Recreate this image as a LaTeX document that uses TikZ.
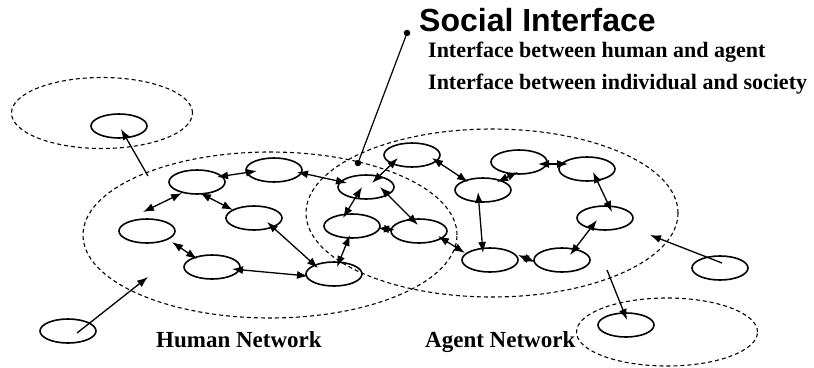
\documentclass[tikz,border=0pt]{standalone}
\usepackage{fontspec}
\setmainfont{Liberation Serif}
\newfontfamily\sisans{Liberation Sans}
\usetikzlibrary{shapes.geometric,arrows.meta,calc}
\begin{document}
\begin{tikzpicture}[x=1pt,y=-1pt,
  agent/.style={ellipse,draw,line width=1.6pt,minimum width=56pt,minimum height=24pt,inner sep=0pt},
  region/.style={ellipse,draw,line width=1.1pt,dash pattern=on 4pt off 3pt,inner sep=0pt},
  link/.style={line width=1.3pt,{Latex[length=11pt,width=8pt]}-{Latex[length=11pt,width=8pt]}},
  oneway/.style={line width=1.3pt,-{Latex[length=11pt,width=8pt]}},
  dotmark/.style={circle,fill,inner sep=0pt,minimum size=6.5pt},
  toptext/.style={font=\bfseries\fontsize{22}{24}\selectfont,anchor=base west,inner sep=0pt},
  nettext/.style={font=\bfseries\fontsize{23}{24}\selectfont,anchor=base west,inner sep=0pt}]
\useasboundingbox (0,0) rectangle (814,367);

% dashed regions
\node[region,minimum width=181pt,minimum height=71pt] (rtl) at (102,113) {};
\node[region,minimum width=374pt,minimum height=166pt] (rhuman) at (270,235) {};
\node[region,minimum width=372pt,minimum height=168pt] (ragent) at (492,213) {};
\node[region,minimum width=181pt,minimum height=68pt] (rbr) at (667,332) {};

% outside nodes
\node[agent] (tl) at (119,126) {};
\node[agent] (bl) at (68,331) {};
\node[agent] (rt) at (720,268) {};
\node[agent] (br) at (626,325) {};

% human network
\node[agent] (h1) at (197,182) {};
\node[agent] (h2) at (274,170) {};
\node[agent] (h3) at (254,218) {};
\node[agent] (h4) at (147,231) {};
\node[agent] (h5) at (212,267) {};
\node[agent] (h6) at (334,274) {};

% agent network
\node[agent] (s)  at (366,187) {};
\node[agent] (a1) at (412,155) {};
\node[agent] (a2) at (352,226) {};
\node[agent] (a3) at (419,231) {};
\node[agent] (a5) at (483,190) {};
\node[agent] (a6) at (519,162) {};
\node[agent] (a7) at (587,169) {};
\node[agent] (a8) at (605,218) {};
\node[agent] (a9) at (562,260) {};
\node[agent] (a10) at (490,260) {};

% free ends
\coordinate (f1) at (143,212);
\coordinate (f2) at (148,176);
\coordinate (f3) at (148,277);
\coordinate (f4) at (650,235);
\coordinate (f5) at (607,270);

% links
\draw[link] ($(h1)+(20,-5)$) -- ($(h2)+(-17,1)$);
\draw[link] ($(h1)+(3,11)$) -- ($(h3)+(-21,-8)$);
\draw[link] ($(h1)+(-15,11)$) -- (f1);
\draw[link] ($(h4)+(25,11)$) -- ($(h5)+(-15,-8)$);
\draw[link] ($(h5)+(20,2)$) -- ($(h6)+(-26,2)$);
\draw[link] ($(h3)+(13,4)$) -- ($(h6)+(-16,-6)$);
\draw[link] ($(h2)+(23,2)$) -- ($(s)+(-19,-4)$);
\draw[link] ($(s)+(6,-4)$) -- ($(a1)+(-14,3)$);
\draw[link] ($(s)+(-4,0)$) -- ($(a2)+(-9,-8)$);
\draw[link] ($(s)+(14,0)$) -- ($(a3)+(-1,-6)$);
\draw[link] ($(a2)+(-2,9)$) -- ($(h6)+(3,-7)$);
\draw[link] ($(a2)+(26,2)$) -- ($(a3)+(-24,-1)$);
\draw[link] ($(a3)+(19,5)$) -- ($(a10)+(-25,-7)$);
\draw[link] ($(a1)+(20,3)$) -- ($(a5)+(-15,-8)$);
\draw[link] ($(a5)+(14,-8)$) -- ($(a6)+(-1,10)$);
\draw[link] ($(a6)+(19,2)$) -- ($(a7)+(-19,-5)$);
\draw[link] ($(a7)+(6,3)$) -- ($(a8)+(7,-6)$);
\draw[link] ($(a8)+(-8,2)$) -- ($(a9)+(8,-5)$);
\draw[link] ($(a9)+(-27,2)$) -- ($(a10)+(28,-5)$);
\draw[link] ($(a5)+(-5,2)$) -- ($(a10)+(-7,-7)$);

% one-way arrows
\draw[oneway] (f2) -- ($(tl)+(2,3)$);
\draw[oneway] ($(bl)+(9,2)$) -- (f3);
\draw[oneway] ($(rt)+(2,-5)$) -- (f4);
\draw[oneway] (f5) -- ($(br)+(1,-5)$);

% social interface pointer
\node[dotmark] (d1) at (358,163) {};
\node[dotmark] (d2) at (407,33) {};
\draw[line width=1.2pt] (d1) -- (d2);

% texts
\node[font=\sisans\bfseries\fontsize{32}{34}\selectfont,anchor=base west,inner sep=0pt] (title) at (419,31) {Social Interface};
\node[toptext] (l1) at (428,57) {Interface between human and agent};
\node[toptext] (l2) at (428,89) {Interface between individual and society};
\node[nettext] (hn) at (156,347) {Human Network};
\node[nettext] (an) at (425,347) {Agent Network};
\end{tikzpicture}
\end{document}
